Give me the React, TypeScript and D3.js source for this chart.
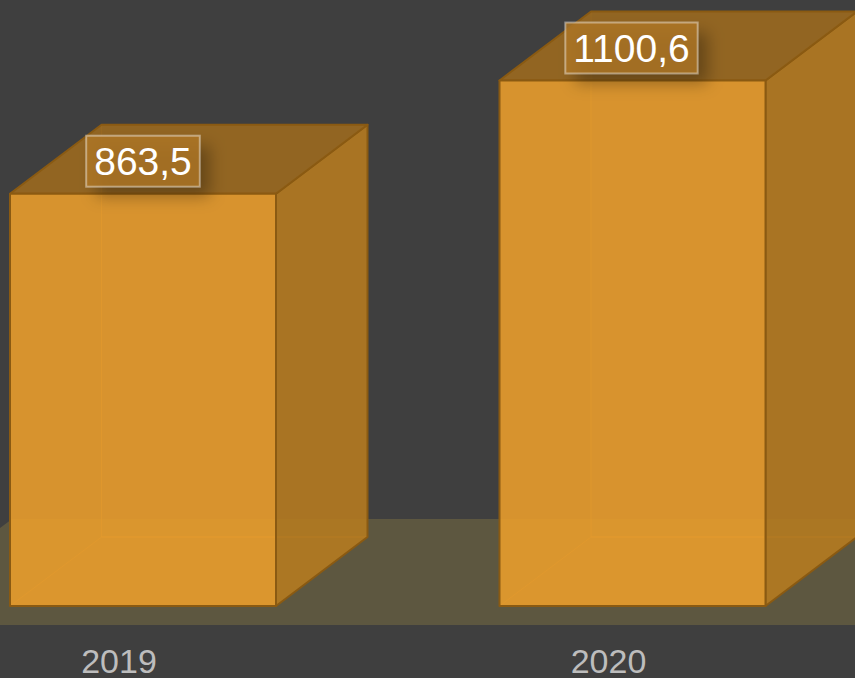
import React from "react";
import * as d3 from "d3";

const categories = ["2019", "2020"];
const values = [863.5, 1100.6];
const valueLabels = ["863,5", "1100,6"];

const W = 855, H = 678;
const BASE_Y = 606;
const DX = 91.5, DY = -69;

const x = d3.scaleBand<string>().domain(categories).range([10, 10 + 266 + 489.5]).paddingInner(223.5 / 489.5).paddingOuter(0).align(0);
const y = d3.scaleLinear().domain([0, 1100.6]).range([BASE_Y, 80.5]);

const poly = (pts: [number, number][]) => {
  const l = d3.line();
  return (l(pts) as string) + "Z";
};

const ORANGE = "#e89c2c";
const EDGE = "#8a5a12";

const measure = (t: string, font: string) => {
  const c = document.createElement("canvas").getContext("2d")!;
  c.font = font;
  return c.measureText(t).width;
};

export default function App() {
  const labelFont = "39px 'Liberation Sans'";
  return (
    <svg width={W} height={H} viewBox={`0 0 ${W} ${H}`} style={{ position: "absolute", left: 0, top: 0, display: "block", background: "#3f3f3f", fontFamily: "'Liberation Sans'" }}>
      <defs>
        <filter id="shadow" x="-40%" y="-40%" width="180%" height="180%">
          <feGaussianBlur stdDeviation="8" />
        </filter>
      </defs>
      <path d={poly([[12, 519], [W, 519], [W, 625], [0, 625], [0, 528]])} fill="#5d5740" />
      {categories.map((c, i) => {
        const x0 = x(c)!, x1 = x0 + x.bandwidth();
        const yT = y(values[i]), yB = y(0);
        const bx0 = x0 + DX, bx1 = x1 + DX, byT = yT + DY, byB = yB + DY;
        return (
          <g key={c} strokeLinejoin="round">
            <path d={poly([[bx0, byT], [bx1, byT], [bx1, byB], [bx0, byB]])} fill={ORANGE} fillOpacity={0.04} stroke={ORANGE} strokeOpacity={0.45} strokeWidth={1} />
            <path d={poly([[x0, yB], [bx0, byB], [bx0, byT], [x0, yT]])} fill={ORANGE} fillOpacity={0.03} />
            <path d={poly([[x0, yB], [x1, yB], [bx1, byB], [bx0, byB]])} fill={ORANGE} fillOpacity={0.1} stroke={ORANGE} strokeOpacity={0.4} strokeWidth={1} />
            <path d={poly([[x1, yT], [bx1, byT], [bx1, byB], [x1, yB]])} fill="#b47a20" fillOpacity={0.9} stroke={EDGE} strokeWidth={2} />
            <path d={poly([[x0, yT], [x1, yT], [bx1, byT], [bx0, byT]])} fill="#996820" fillOpacity={0.92} stroke={EDGE} strokeWidth={2} />
            <path d={poly([[x0, yT], [x1, yT], [x1, yB], [x0, yB]])} fill={ORANGE} fillOpacity={0.9} stroke={EDGE} strokeWidth={2} />
          </g>
        );
      })}
      {categories.map((c, i) => {
        const cx = x(c)! + x.bandwidth() / 2 - (i === 1 ? 1 : 0);
        const yT = y(values[i]);
        const tw = measure(valueLabels[i], labelFont);
        const bw = tw + 16, bh = 51;
        const by = yT - 58;
        return (
          <g key={c}>
            <rect x={cx - bw / 2 + 10} y={by + 10} width={bw} height={bh} fill="#000" fillOpacity={0.3} filter="url(#shadow)" />
            <rect x={cx - bw / 2} y={by} width={bw} height={bh} fill="#ad7526" fillOpacity={0.85} stroke="#fff" strokeOpacity={0.42} strokeWidth={2} />
            <text x={cx} y={by + 39} textAnchor="middle" fill="#fff" style={{ font: labelFont }}>{valueLabels[i]}</text>
          </g>
        );
      })}
      {categories.map((c) => (
        <text key={c} x={x(c)! + x.bandwidth() / 2 - 24} y={673} textAnchor="middle" fill="#bdbdbd" fontSize={34}>{c}</text>
      ))}
    </svg>
  );
}
